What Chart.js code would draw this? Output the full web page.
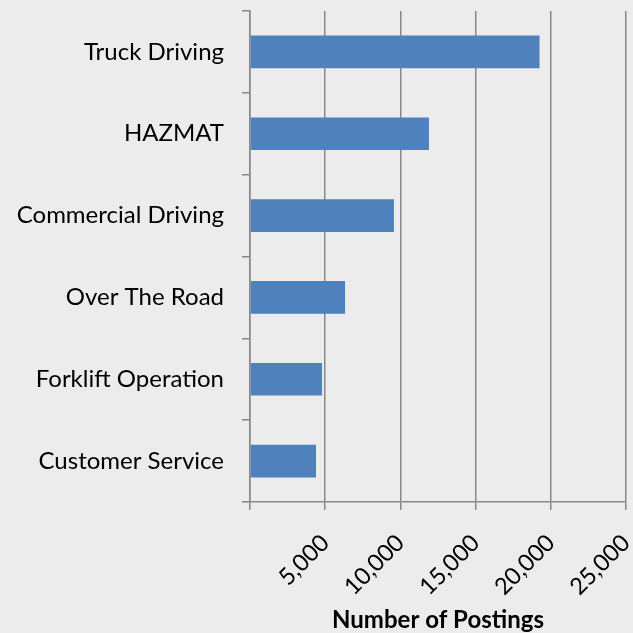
<!DOCTYPE html>
<html>
<head>
<meta charset="utf-8">
<script src="https://cdn.jsdelivr.net/npm/chart.js@4"></script>
<style>
  html, body { margin: 0; padding: 0; background: #ececec; }
  #wrap { width: 633px; height: 633px; }
</style>
</head>
<body>
<div id="wrap"><canvas id="chart" width="633" height="633"></canvas></div>
<script>
  // Data
  const skills = ['Truck Driving', 'HAZMAT', 'Commercial Driving', 'Over The Road', 'Forklift Operation', 'Customer Service'];
  const postings = [19250, 11900, 9570, 6320, 4790, 4390];
  const xTicks = [0, 5000, 10000, 15000, 20000, 25000];

  const gridColor = '#888888';
  const fontName = 'Lato, "Open Sans", sans-serif';

  // Paint the light gray background behind the chart
  const background = {
    id: 'background',
    beforeDraw(chart) {
      const ctx = chart.ctx;
      ctx.save();
      ctx.fillStyle = '#ececec';
      ctx.fillRect(0, 0, chart.width, chart.height);
      ctx.restore();
    }
  };

  new Chart(document.getElementById('chart'), {
    type: 'bar',
    data: {
      labels: skills,
      datasets: [{
        data: postings,
        backgroundColor: '#4f81bd',
        barPercentage: 0.4,
        categoryPercentage: 1
      }]
    },
    plugins: [background],
    options: {
      indexAxis: 'y',
      responsive: false,
      animation: false,
      layout: { padding: { top: 11, right: 7, left: 0, bottom: 0 } },
      plugins: {
        legend: { display: false },
        tooltip: { enabled: false }
      },
      scales: {
        x: {
          min: 0,
          max: 25000,
          afterBuildTicks: (scale) => {
            scale.ticks = xTicks.map(v => ({ value: v }));
          },
          afterFit: (scale) => {
            scale.height = 131;
            scale.paddingLeft = 0;
            scale.paddingRight = 0;
          },
          grid: {
            color: gridColor,
            lineWidth: 1.5,
            tickLength: 8
          },
          border: { color: gridColor, width: 1.5 },
          ticks: {
            minRotation: 45,
            maxRotation: 45,
            padding: 19,
            color: '#000',
            font: { family: fontName, size: 23.5 },
            callback: (value) => value === 0 ? '' : value.toLocaleString('en-US')
          },
          title: {
            display: true,
            text: 'Number of Postings',
            color: '#000',
            font: { family: fontName, size: 24, weight: 'bold' },
            padding: { top: 4, bottom: -2 }
          }
        },
        y: {
          afterFit: (scale) => {
            scale.width = 250;
            scale.paddingTop = 0;
            scale.paddingBottom = 0;
          },
          grid: {
            offset: true,
            drawOnChartArea: false,
            color: gridColor,
            lineWidth: 1.5,
            tickLength: 8
          },
          border: { color: gridColor, width: 1.5 },
          ticks: {
            padding: 18,
            color: '#000',
            font: { family: fontName, size: 24 }
          }
        }
      }
    }
  });
</script>
</body>
</html>
